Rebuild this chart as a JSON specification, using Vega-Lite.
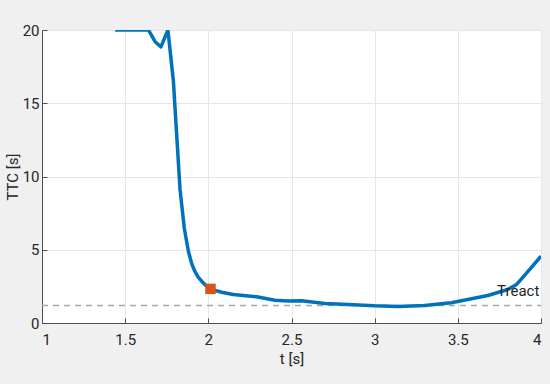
{
  "$schema": "https://vega.github.io/schema/vega-lite/v6.json",
  "width": 499,
  "height": 293,
  "autosize": "none",
  "padding": {"left": 42, "top": 30, "right": 9, "bottom": 61},
  "background": "#f0f0f0",
  "config": {
    "view": {"fill": "white", "stroke": null},
    "axis": {
      "labelFont": "Roboto",
      "titleFont": "Roboto",
      "labelFontSize": 15,
      "titleFontSize": 15,
      "titleFontWeight": "normal",
      "labelColor": "#262626",
      "titleColor": "#262626",
      "domainColor": "#4d4d4d",
      "tickColor": "#4d4d4d",
      "gridColor": "#e6e6e6",
      "tickSize": -5
    }
  },
  "datasets": {
    "ttc": [
      {"t": 1.44, "ttc": 20},
      {"t": 1.64, "ttc": 20},
      {"t": 1.68, "ttc": 19.2},
      {"t": 1.715, "ttc": 18.85},
      {"t": 1.757, "ttc": 20},
      {"t": 1.79, "ttc": 16.5},
      {"t": 1.83, "ttc": 9.1},
      {"t": 1.855, "ttc": 6.5},
      {"t": 1.88, "ttc": 4.9},
      {"t": 1.9, "ttc": 4.05},
      {"t": 1.92, "ttc": 3.5},
      {"t": 1.94, "ttc": 3.12},
      {"t": 1.96, "ttc": 2.85},
      {"t": 1.985, "ttc": 2.56},
      {"t": 2.01, "ttc": 2.33},
      {"t": 2.08, "ttc": 2.1},
      {"t": 2.15, "ttc": 1.95},
      {"t": 2.29, "ttc": 1.79},
      {"t": 2.4, "ttc": 1.55},
      {"t": 2.48, "ttc": 1.5},
      {"t": 2.56, "ttc": 1.52},
      {"t": 2.7, "ttc": 1.33},
      {"t": 2.84, "ttc": 1.26},
      {"t": 3.0, "ttc": 1.17},
      {"t": 3.14, "ttc": 1.13},
      {"t": 3.3, "ttc": 1.19},
      {"t": 3.46, "ttc": 1.38},
      {"t": 3.56, "ttc": 1.6},
      {"t": 3.68, "ttc": 1.88},
      {"t": 3.8, "ttc": 2.29},
      {"t": 3.85, "ttc": 2.6},
      {"t": 3.88, "ttc": 2.97},
      {"t": 3.94, "ttc": 3.77},
      {"t": 4.0, "ttc": 4.56}
    ],
    "marker": [{"t": 2.013, "ttc": 2.33}],
    "threshold": [{"t": 1, "ttc": 1.2}, {"t": 4, "ttc": 1.2}],
    "label": [{"t": 3.99, "ttc": 2.2, "text": "Treact"}]
  },
  "layer": [
    {
      "data": {"name": "threshold"},
      "mark": {"type": "line", "color": "#a6a6a6", "strokeDash": [6, 5], "strokeWidth": 1.5},
      "encoding": {
        "x": {"field": "t", "type": "quantitative", "scale": {"domain": [1, 4]},
          "axis": {"title": "t [s]", "values": [1, 1.5, 2, 2.5, 3, 3.5, 4], "format": "~g", "labelPadding": 14, "titlePadding": 4}},
        "y": {"field": "ttc", "type": "quantitative", "scale": {"domain": [0, 20]},
          "axis": {"title": "TTC [s]", "values": [0, 5, 10, 15, 20], "labelPadding": 8, "titlePadding": 2}}
      }
    },
    {
      "data": {"name": "ttc"},
      "mark": {"type": "line", "color": "#0072BD", "strokeWidth": 3.5, "strokeJoin": "round", "clip": true},
      "encoding": {
        "x": {"field": "t", "type": "quantitative"},
        "y": {"field": "ttc", "type": "quantitative"}
      }
    },
    {
      "data": {"name": "marker"},
      "mark": {"type": "square", "color": "#D95319", "opacity": 1, "size": 110, "filled": true},
      "encoding": {
        "x": {"field": "t", "type": "quantitative"},
        "y": {"field": "ttc", "type": "quantitative"}
      }
    },
    {
      "data": {"name": "label"},
      "mark": {"type": "text", "align": "right", "baseline": "middle", "font": "Roboto", "fontSize": 15, "color": "#262626"},
      "encoding": {
        "x": {"field": "t", "type": "quantitative"},
        "y": {"field": "ttc", "type": "quantitative"},
        "text": {"field": "text"}
      }
    }
  ]
}
